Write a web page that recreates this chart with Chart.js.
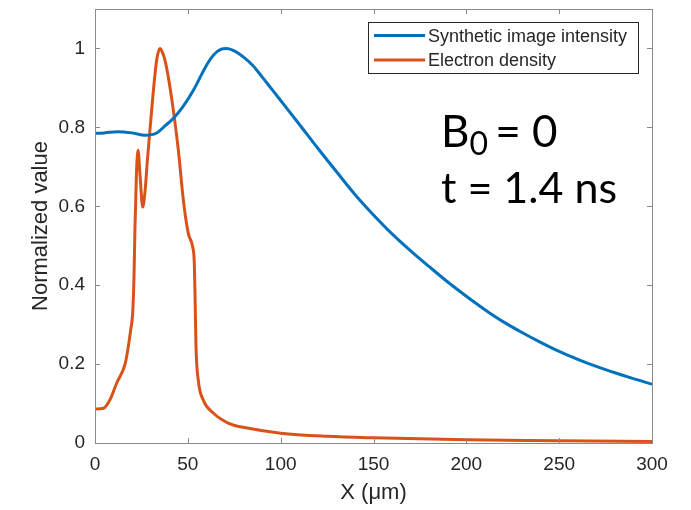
<!DOCTYPE html>
<html>
<head>
<meta charset="utf-8">
<script src="https://cdn.jsdelivr.net/npm/chart.js@4"></script>
<style>
  html, body { margin: 0; padding: 0; background: #fff; }
  #wrap { width: 691px; height: 510px; }
</style>
</head>
<body>
<div id="wrap"><canvas id="chart"></canvas></div>
<script>
// positions in um, values normalized
const intensityX = [0, 5, 12, 20, 27, 33, 38, 42, 47, 53, 60, 64, 68, 71, 75, 80, 85, 90, 95, 100, 110, 120, 130, 140, 150, 160, 170, 180, 190, 200, 210, 220, 230, 240, 250, 260, 270, 280, 290, 300];
const intensityY = [0.785, 0.786, 0.789, 0.786, 0.780, 0.785, 0.805, 0.822, 0.850, 0.894, 0.957, 0.984, 0.998, 1.0, 0.994, 0.978, 0.957, 0.928, 0.898, 0.868, 0.808, 0.747, 0.688, 0.630, 0.578, 0.530, 0.487, 0.447, 0.408, 0.372, 0.338, 0.307, 0.280, 0.255, 0.232, 0.212, 0.194, 0.178, 0.163, 0.149];

const densityX = [0, 4.5, 8, 11.7, 16.2, 17.9, 19.2, 20.3, 21, 21.5, 22.3, 23.2, 24.2, 25.7, 27, 28.2, 30.5, 33.2, 35, 36.3, 37.7, 39.5, 42.2, 44.9, 47.6, 50.3, 52.6, 53.5, 53.9, 54.4, 55.6, 58.3, 63.7, 72, 82, 100, 125, 150, 200, 250, 300];
const densityY = [0.086, 0.088, 0.109, 0.152, 0.2, 0.243, 0.286, 0.33, 0.42, 0.54, 0.68, 0.742, 0.683, 0.598, 0.64, 0.716, 0.843, 0.97, 1.0, 0.99, 0.97, 0.927, 0.843, 0.742, 0.615, 0.53, 0.497, 0.455, 0.37, 0.244, 0.16, 0.109, 0.076, 0.05, 0.038, 0.025, 0.017, 0.013, 0.008, 0.006, 0.004];

const xTicks = [0, 50, 100, 150, 200, 250, 300];
const yTicks = [0, 0.2, 0.4, 0.6, 0.8, 1];

const BLUE = '#0072BD';
const ORANGE = '#D95319';
const AXIS = '#8a8a8a';
const TEXT = '#262626';

const toPoints = (xs, ys) => xs.map((x, i) => ({ x, y: ys[i] }));

// MATLAB style box with inward ticks on all sides
const boxPlugin = {
    id: 'box',
    afterDraw(chart) {
        const { ctx, chartArea: a, scales } = chart;
        const len = 5;
        ctx.save();
        ctx.strokeStyle = AXIS;
        ctx.lineWidth = 1;
        ctx.strokeRect(a.left + 0.5, a.top + 0.5, a.right - a.left, a.bottom - a.top);
        ctx.beginPath();
        scales.x.ticks.forEach(t => {
            const px = Math.round(scales.x.getPixelForValue(t.value)) + 0.5;
            ctx.moveTo(px, a.bottom); ctx.lineTo(px, a.bottom - len);
            ctx.moveTo(px, a.top); ctx.lineTo(px, a.top + len);
        });
        scales.y.ticks.forEach(t => {
            const py = Math.round(scales.y.getPixelForValue(t.value)) + 0.5;
            ctx.moveTo(a.left, py); ctx.lineTo(a.left + len, py);
            ctx.moveTo(a.right, py); ctx.lineTo(a.right - len, py);
        });
        ctx.stroke();
        ctx.restore();
    }
};

// legend box inside the axes, top right
const legendPlugin = {
    id: 'boxLegend',
    afterDraw(chart) {
        const { ctx } = chart;
        const left = 368, top = 22, w = 270, h = 51;
        ctx.save();
        ctx.fillStyle = '#fff';
        ctx.fillRect(left, top, w, h);
        ctx.strokeStyle = TEXT;
        ctx.lineWidth = 1;
        ctx.strokeRect(left + 0.5, top + 0.5, w, h);
        ctx.font = '18px "Liberation Sans", Arial, sans-serif';
        ctx.textBaseline = 'middle';
        chart.data.datasets.forEach((ds, i) => {
            const y = top + 13.5 + i * 24.5;
            ctx.strokeStyle = ds.borderColor;
            ctx.lineWidth = 3;
            ctx.beginPath();
            ctx.moveTo(left + 6, y);
            ctx.lineTo(left + 57, y);
            ctx.stroke();
            ctx.fillStyle = TEXT;
            ctx.fillText(ds.label, left + 60, y + 1.5);
        });
        ctx.restore();
    }
};

// annotation: B0 = 0, t = 1.4 ns
const notePlugin = {
    id: 'note',
    afterDraw(chart) {
        const { ctx } = chart;
        const fam = 'Lato, "Open Sans", sans-serif';
        ctx.save();
        ctx.fillStyle = '#000';
        ctx.textBaseline = 'alphabetic';
        let x = 441;
        ctx.font = '44px ' + fam;
        ctx.fillText('B', x, 147);
        x += ctx.measureText('B').width;
        ctx.font = '32px ' + fam;
        ctx.fillText('0', x, 155);
        x += ctx.measureText('0').width;
        ctx.font = '44px ' + fam;
        ctx.fillText(' = 0', x - 4, 147);
        ctx.font = '43px ' + fam;
        ctx.fillText('t = 1.4 ns', 441, 203);
        ctx.restore();
    }
};

new Chart(document.getElementById('chart'), {
    type: 'line',
    data: {
        datasets: [
            {
                label: 'Synthetic image intensity',
                data: toPoints(intensityX, intensityY),
                borderColor: BLUE,
                borderWidth: 3,
                pointRadius: 0,
                cubicInterpolationMode: 'monotone',
                fill: false
            },
            {
                label: 'Electron density',
                data: toPoints(densityX, densityY),
                borderColor: ORANGE,
                borderWidth: 3,
                pointRadius: 0,
                cubicInterpolationMode: 'monotone',
                fill: false
            }
        ]
    },
    options: {
        responsive: true,
        maintainAspectRatio: false,
        animation: false,
        layout: { padding: { left: 0, right: 39, top: 9, bottom: 0 } },
        plugins: { legend: { display: false }, tooltip: { enabled: false } },
        scales: {
            x: {
                type: 'linear',
                min: 0,
                max: 300,
                afterBuildTicks: s => { s.ticks = xTicks.map(v => ({ value: v })); },
                afterFit: s => { s.height = 67; s.paddingLeft = 0; s.paddingRight = 0; },
                grid: { display: false, drawTicks: false },
                border: { display: false },
                ticks: {
                    padding: 10,
                    color: TEXT,
                    font: { family: '"Liberation Sans", Arial, sans-serif', size: 19 },
                    maxRotation: 0
                },
                title: {
                    display: true,
                    text: 'X (μm)',
                    color: TEXT,
                    font: { family: '"Liberation Sans", Arial, sans-serif', size: 22 },
                    padding: { top: 0, bottom: 4 }
                }
            },
            y: {
                type: 'linear',
                min: 0,
                max: 1.1,
                afterBuildTicks: s => { s.ticks = yTicks.map(v => ({ value: v })); },
                afterFit: s => { s.width = 95; s.paddingTop = 0; s.paddingBottom = 0; },
                grid: { display: false, drawTicks: false },
                border: { display: false },
                ticks: {
                    padding: 10,
                    color: TEXT,
                    font: { family: '"Liberation Sans", Arial, sans-serif', size: 19 },
                    callback: v => String(Number(v.toFixed(1)))
                },
                title: {
                    display: true,
                    text: 'Normalized value',
                    color: TEXT,
                    font: { family: '"Liberation Sans", Arial, sans-serif', size: 22 },
                    padding: { top: 28, bottom: 0 }
                }
            }
        }
    },
    plugins: [boxPlugin, legendPlugin, notePlugin]
});
</script>
</body>
</html>
